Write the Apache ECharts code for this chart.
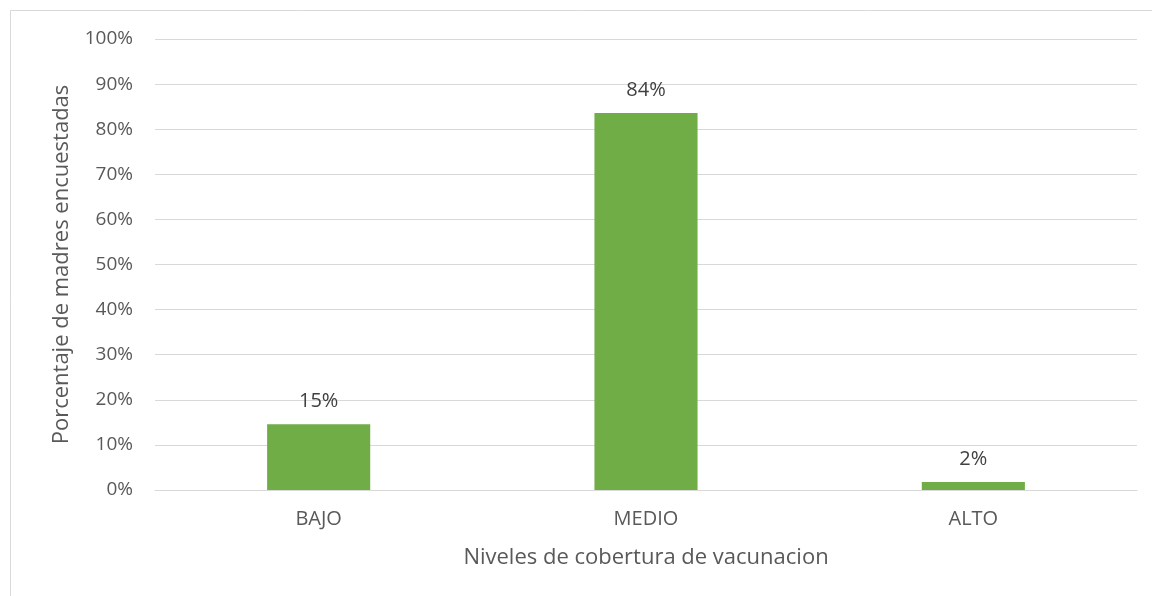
<!DOCTYPE html>
<html>
<head>
<meta charset="utf-8">
<script src="https://cdn.jsdelivr.net/npm/echarts@6/dist/echarts.min.js"></script>
<style>
html,body{margin:0;padding:0;background:#fff;}
#chart{width:1152px;height:596px;}
</style>
</head>
<body>
<div id="chart"></div>
<script>
const categories = ['BAJO', 'MEDIO', 'ALTO'];
const values = [0.146, 0.836, 0.018];
const yAxisName = 'Porcentaje de madres encuestadas';
const xAxisName = 'Niveles de cobertura de vacunacion';

const chart = echarts.init(document.getElementById('chart'));
const font = '"Open Sans", "Noto Sans", sans-serif';
chart.setOption({
  animation: false,
  textStyle: { fontFamily: font },
  graphic: [{
    type: 'rect',
    shape: { x: 10.5, y: 10.5, width: 1200, height: 700 },
    style: { fill: 'none', stroke: '#D9D9D9', lineWidth: 1 },
    silent: true
  }],
  grid: { left: 155, right: 15, top: 39, bottom: 106 },
  xAxis: {
    type: 'category',
    data: categories,
    axisLine: { lineStyle: { color: '#D9D9D9', width: 1 } },
    axisTick: { show: false },
    axisLabel: { color: '#595959', fontSize: 20, margin: 19, fontFamily: font },
    name: xAxisName,
    nameLocation: 'middle',
    nameGap: 57,
    nameTextStyle: { color: '#595959', fontSize: 22, fontFamily: font }
  },
  yAxis: {
    type: 'value',
    min: 0, max: 1, interval: 0.1,
    axisLine: { show: false },
    axisTick: { show: false },
    splitLine: { lineStyle: { color: '#D9D9D9', width: 1 } },
    axisLabel: {
      color: '#595959', fontSize: 19, margin: 22, fontFamily: font,
      formatter: v => Math.round(v * 100) + '%'
    },
    name: yAxisName,
    nameLocation: 'middle',
    nameGap: 82,
    nameTextStyle: { color: '#595959', fontSize: 22, fontFamily: font }
  },
  series: [{
    type: 'bar',
    data: values,
    barWidth: '31.5%',
    itemStyle: { color: '#70AD47' },
    label: {
      show: true,
      position: 'top',
      distance: 13,
      color: '#404040',
      fontSize: 20,
      fontFamily: font,
      formatter: p => Math.round(p.value * 100) + '%'
    }
  }]
});
</script>
</body>
</html>
